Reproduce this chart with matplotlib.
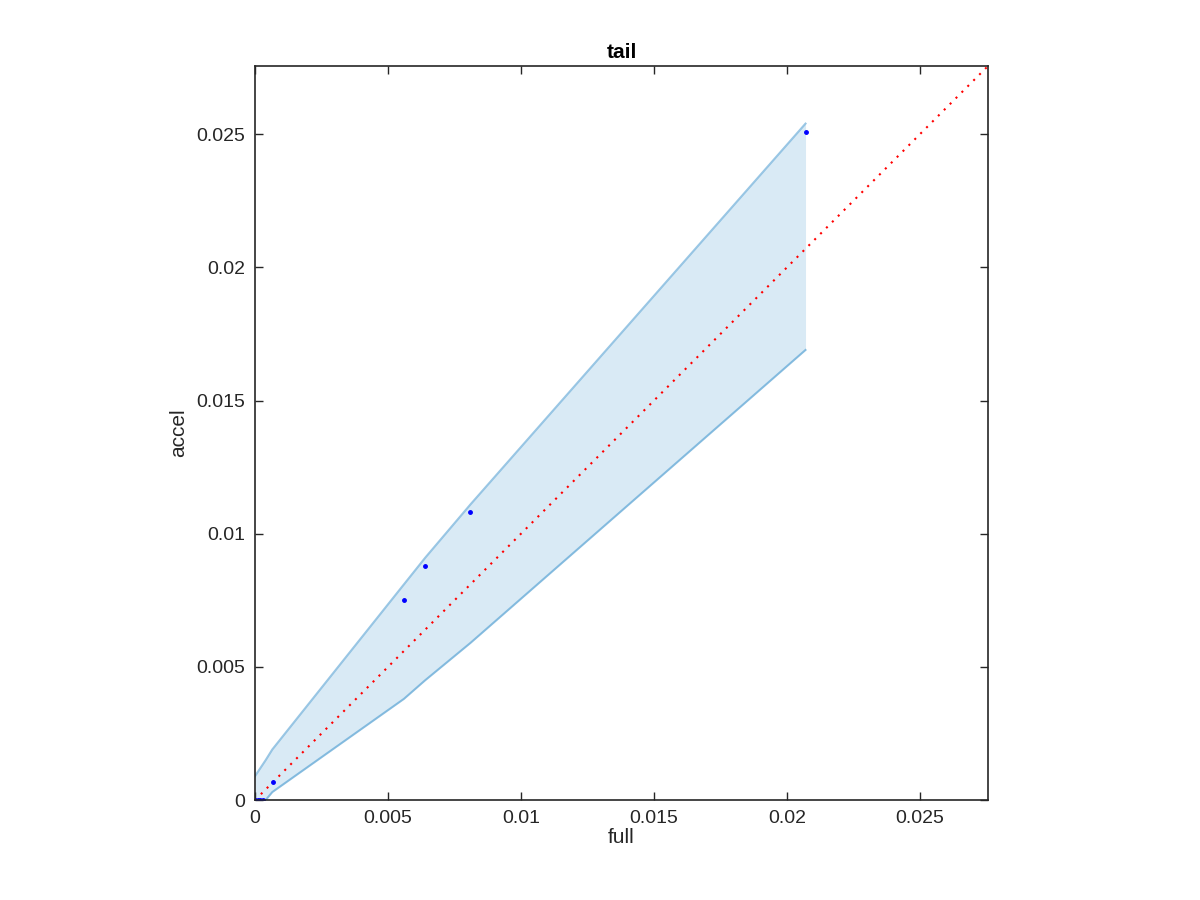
import numpy as np
import matplotlib
matplotlib.use('Agg')
import matplotlib.pyplot as plt

plt.rcParams['font.family'] = ['Liberation Sans', 'DejaVu Sans']

# band of the interval (full vs accel)
band_x = [0.0, 0.0004, 0.00065, 0.0056, 0.0064, 0.0081, 0.0207]
band_hi = [0.0009, 0.0015, 0.0019, 0.0081, 0.0091, 0.0111, 0.0254]
band_lo = [-0.0003, 0.0000, 0.0003, 0.0038, 0.0045, 0.0059, 0.0169]

# observed points
pts_x = [0.0, 0.0001, 0.0002, 0.0003, 0.00066, 0.0056, 0.0064, 0.0081, 0.0207]
pts_y = [0.0, 0.0, 0.0, 0.0, 0.00068, 0.0075, 0.0088, 0.0108, 0.0251]

lim = 0.02756
ticks = [0, 0.005, 0.01, 0.015, 0.02, 0.025]
tick_labels = ['0', '0.005', '0.01', '0.015', '0.02', '0.025']

fig = plt.figure(figsize=(12, 9), dpi=100)
ax = fig.add_axes([0.2125, 0.111, 0.6108, 0.8156])

fill_c = (0.0, 0.447, 0.741)
ax.fill_between(band_x, band_lo, band_hi, color=fill_c, alpha=0.15, linewidth=0)
ax.plot(band_x, band_hi, color=fill_c, alpha=0.4, lw=1.5)
ax.plot(band_x, band_lo, color=fill_c, alpha=0.4, lw=1.5)

ax.plot([0, lim], [0, lim], color='red', ls=(0, (1, 3)), lw=1.5)
ax.plot(pts_x, pts_y, 'o', color='blue', ms=2.5, mec='blue')

ax.set_xlim(0, lim)
ax.set_ylim(0, lim)
ax.set_xticks(ticks)
ax.set_yticks(ticks)
ax.set_xticklabels(tick_labels)
ax.set_yticklabels(tick_labels)
ax.tick_params(direction='in', top=True, right=True, length=6, width=1,
               labelsize=14, colors='#262626', pad=7)
for s in ax.spines.values():
    s.set_linewidth(1.2)
    s.set_color('#262626')

ax.set_xlabel('full', fontsize=15, color='#262626', labelpad=1)
ax.set_ylabel('accel', fontsize=15, color='#262626', labelpad=6)
ax.set_title('tail', fontsize=15, fontweight='bold', pad=6)

plt.savefig('out.png', dpi=100)
